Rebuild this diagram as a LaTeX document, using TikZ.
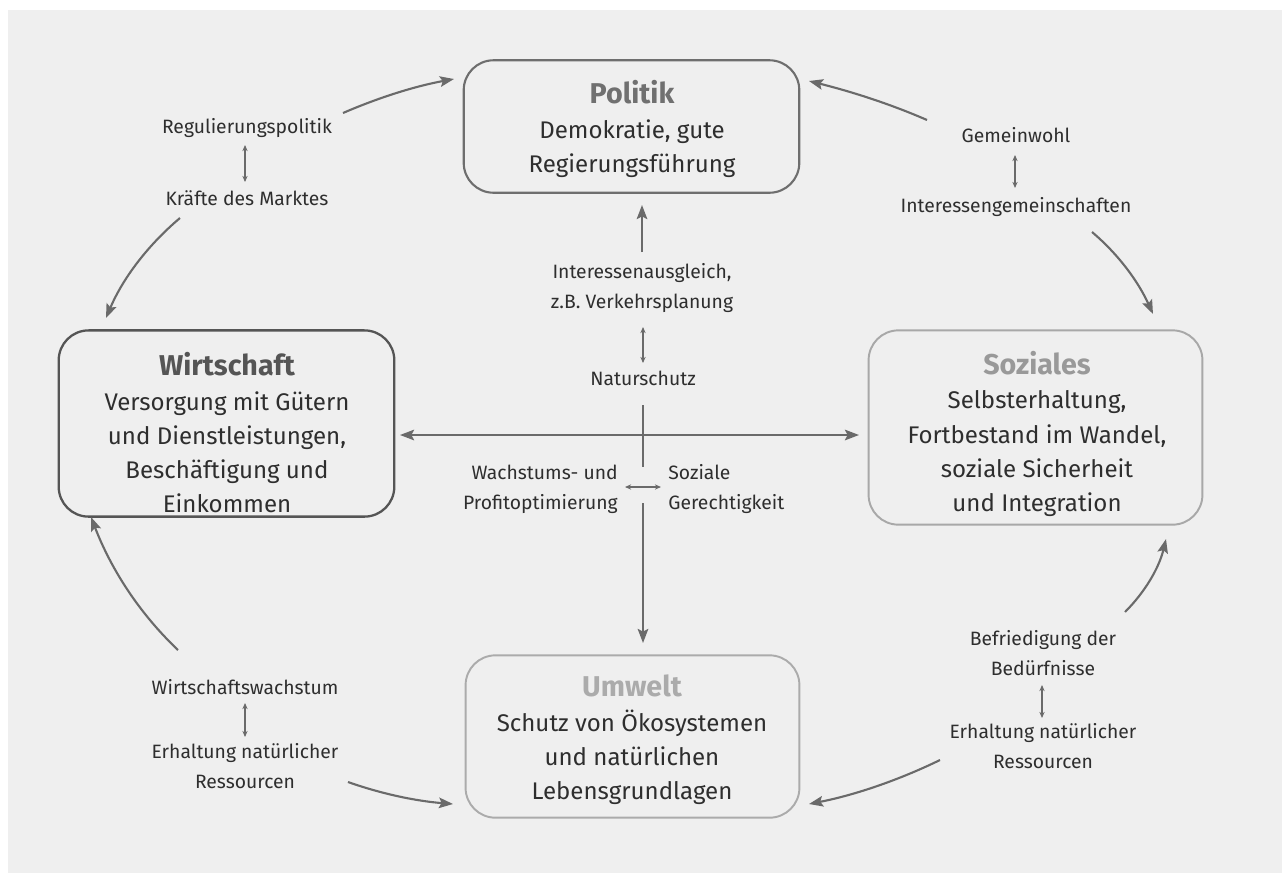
\documentclass[tikz,border=0pt]{standalone}
\usepackage{fontspec}
\setmainfont{Fira Sans}
\usetikzlibrary{arrows.meta}
\definecolor{bg}{HTML}{EFEFEF}
\definecolor{txt}{HTML}{2E2E2E}
\definecolor{arrc}{HTML}{6A6A6A}
\definecolor{polc}{HTML}{6E6E6E}
\definecolor{polt}{HTML}{707070}
\definecolor{wirc}{HTML}{555555}
\definecolor{sozc}{HTML}{A8A8A8}
\definecolor{sozt}{HTML}{999999}
\definecolor{umwc}{HTML}{ABABAB}
\begin{document}
\begin{tikzpicture}[x=0.02cm,y=-0.02cm,
  box/.style={draw, rounded corners=17pt, inner sep=0pt},
  boxtext/.style={align=center, text=txt, font=\fontsize{13.7}{19.5}\selectfont},
  boxtitle/.style={},
  lbl/.style={align=center, text=txt, font=\fontsize{11}{17}\selectfont, inner sep=0pt},
  arr/.style={draw=arrc, line width=1.2pt, -{Stealth[length=8pt,width=6pt,inset=1.5pt]}},
  dbl/.style={draw=arrc, line width=0.6pt, {Stealth[length=3.5pt,width=3pt]}-{Stealth[length=3.5pt,width=3pt]}},
  plainline/.style={draw=arrc, line width=1.2pt}
]
\newcommand{\btitle}[2]{{\fontsize{16.3}{19.5}\selectfont\bfseries\color{#1}#2}}
\useasboundingbox (0,0) rectangle (1282,873);
\fill[bg] (8,10) rectangle (1282,873);

% boxes
\node[box, draw=polc, line width=1.2pt, minimum width=191pt, minimum height=75.4pt] (politik) at (631.5,126.5) {};
\node[box, draw=wirc, line width=1.3pt, minimum width=191pt, minimum height=106pt] (wirt) at (226.5,423.5) {};
\node[box, draw=sozc, line width=1.1pt, minimum width=190pt, minimum height=110.6pt] (soz) at (1035.5,427.5) {};
\node[box, draw=umwc, line width=1.1pt, minimum width=190pt, minimum height=92.4pt] (umw) at (632.5,736.5) {};

% box texts
\node[boxtext] (poltext) at (632,129) {\btitle{polt}{Politik}\\Demokratie, gute\\Regierungsführung};
\node[boxtext] (wirtext) at (227,433) {\btitle{wirc}{Wirtschaft}\\Versorgung mit Gütern\\und Dienstleistungen,\\Beschäftigung und\\Einkommen};
\node[boxtext] (soztext) at (1037,434) {\btitle{sozt}{Soziales}\\Selbsterhaltung,\\Fortbestand im Wandel,\\soziale Sicherheit\\und Integration};
\node[boxtext] (umwtext) at (632,740) {\btitle{umwc}{Umwelt}\\Schutz von Ökosystemen\\und natürlichen\\Lebensgrundlagen};

% center labels
\node[lbl] (interessen) at (642,288) {Interessenausgleich,\\z.B. Verkehrsplanung};
\node[lbl] (natur) at (643,378) {Naturschutz};
\node[lbl, anchor=east, align=right] (wachstum) at (618,489) {Wachstums- und\\Profitoptimierung};
\node[lbl, anchor=west, align=left] (sozgerecht) at (668,489) {Soziale\\Gerechtigkeit};

% top-left labels
\node[lbl] (regul) at (247,128) {Regulierungspolitik};
\node[lbl] (markt) at (247,198) {Kräfte des Marktes};
% top-right labels
\node[lbl] (gemein) at (1016,135) {Gemeinwohl};
\node[lbl] (igem) at (1016,207) {Interessengemeinschaften};
% bottom-left labels
\node[lbl] (wwachs) at (245,687) {Wirtschaftswachstum};
\node[lbl] (erhl) at (245,766) {Erhaltung natürlicher\\Ressourcen};
% bottom-right labels
\node[lbl] (befr) at (1043,653) {Befriedigung der\\Bedürfnisse};
\node[lbl] (erhr) at (1043,746) {Erhaltung natürlicher\\Ressourcen};

% small double arrows
\draw[dbl] (245,145) coordinate (d1a) -- (245,182) coordinate (d1b);
\draw[dbl] (1015,155) coordinate (d2a) -- (1015,188) coordinate (d2b);
\draw[dbl] (245,703) coordinate (d3a) -- (245,737) coordinate (d3b);
\draw[dbl] (1042,685) coordinate (d4a) -- (1042,718) coordinate (d4b);
\draw[dbl] (643,327) coordinate (d5a) -- (643,363) coordinate (d5b);
\draw[dbl] (625,487) coordinate (d6a) -- (661,487) coordinate (d6b);

% central connectors
\coordinate (upS) at (642,252);
\coordinate (upE) at (642,205);
\draw[arr] (upS) -- (upE);
\coordinate (hL) at (400,435);
\coordinate (hR) at (859,435);
\draw[draw=arrc, line width=1.2pt, {Stealth[length=8pt,width=6pt,inset=1.5pt]}-{Stealth[length=8pt,width=6pt,inset=1.5pt]}] (hL) -- (hR);
\coordinate (vA) at (643,405);
\coordinate (vB) at (643,467);
\draw[plainline] (vA) -- (vB);
\coordinate (vC) at (643,503);
\coordinate (vD) at (643,643);
\draw[arr] (vC) -- (vD);

% cycle arrows
\coordinate (a1s) at (343,113); \coordinate (a1e) at (454,79);
\draw[arr] (a1s) .. controls (380,97) and (416,86) .. (a1e);
\coordinate (a2s) at (180,218); \coordinate (a2e) at (106,318);
\draw[arr] (a2s) .. controls (148,245) and (123,278) .. (a2e);
\coordinate (a3s) at (927,120); \coordinate (a3e) at (809,81);
\draw[arr] (a3s) .. controls (888,103) and (849,91) .. (a3e);
\coordinate (a4s) at (1092,232); \coordinate (a4e) at (1153,314);
\draw[arr] (a4s) .. controls (1118,254) and (1138,281) .. (a4e);
\coordinate (a5s) at (178,650); \coordinate (a5e) at (91,517);
\draw[arr] (a5s) .. controls (139,613) and (111,569) .. (a5e);
\coordinate (a6s) at (348,782); \coordinate (a6e) at (453,804);
\draw[arr] (a6s) .. controls (382,794) and (416,801) .. (a6e);
\coordinate (a7s) at (940,760); \coordinate (a7e) at (809,804);
\draw[arr] (a7s) .. controls (899,780) and (855,795) .. (a7e);
\coordinate (a8s) at (1125,612); \coordinate (a8e) at (1166,539);
\draw[arr] (a8s) .. controls (1145,592) and (1159,568) .. (a8e);
\end{tikzpicture}
\end{document}
